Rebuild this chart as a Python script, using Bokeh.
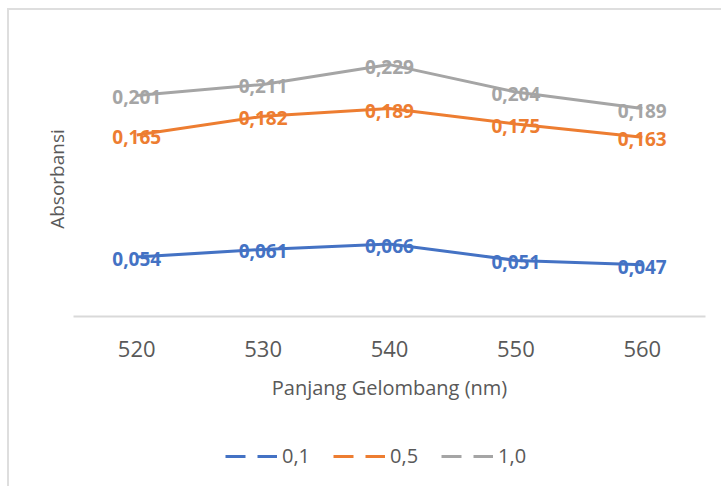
from bokeh.plotting import figure
from bokeh.layouts import column
from bokeh.models import ColumnDataSource, FixedTicker, Legend, LegendItem, Range1d
from bokeh.core.properties import value
from bokeh.embed import file_html
from bokeh.resources import INLINE

wavelengths = ["520", "530", "540", "550", "560"]
series_names = ["0,1", "0,5", "1,0"]
abs_01 = [0.054, 0.061, 0.066, 0.051, 0.047]
abs_05 = [0.165, 0.182, 0.189, 0.175, 0.163]
abs_10 = [0.201, 0.211, 0.229, 0.204, 0.189]
colors = ["#4472C4", "#ED7D31", "#A5A5A5"]

FONT = "Open Sans"
W = 712

p = figure(width=W, height=406, x_range=wavelengths, y_range=Range1d(0, 0.25),
           output_backend="svg", toolbar_location=None,
           min_border_left=64, min_border_right=16, min_border_top=31, min_border_bottom=100)
p.grid.visible = False
p.outline_line_color = None
p.background_fill_color = "white"
p.border_fill_color = "white"

# x axis
p.xaxis.axis_line_color = "#d9d9d9"
p.xaxis.axis_line_width = 2
p.xaxis.major_tick_line_color = None
p.xaxis.minor_tick_line_color = None
p.xaxis.major_label_text_font = FONT
p.xaxis.major_label_text_font_size = "22px"
p.xaxis.major_label_text_color = "#595959"
p.xaxis.major_label_standoff = 18
p.xaxis.axis_label = "Panjang Gelombang (nm)"
p.xaxis.axis_label_text_font = FONT
p.xaxis.axis_label_text_font_size = "20px"
p.xaxis.axis_label_text_font_style = "normal"
p.xaxis.axis_label_text_color = "#595959"
p.xaxis.axis_label_standoff = 14

# y axis: only title
p.yaxis.ticker = FixedTicker(ticks=[])
p.yaxis.axis_line_color = None
p.yaxis.major_tick_line_color = None
p.yaxis.minor_tick_line_color = None
p.yaxis.axis_label = "Absorbansi"
p.yaxis.axis_label_text_font = FONT
p.yaxis.axis_label_text_font_size = "19px"
p.yaxis.axis_label_text_font_style = "normal"
p.yaxis.axis_label_text_color = "#595959"
p.yaxis.axis_label_standoff = 4

all_series = [abs_01, abs_05, abs_10]
for vals, c in zip(all_series, colors):
    p.line(x=wavelengths, y=vals, line_color=c, line_width=3)

for vals, c in zip(all_series, colors):
    src = ColumnDataSource(dict(x=wavelengths, y=vals,
                                t=[f"{v:.3f}".replace(".", ",") for v in vals]))
    p.text(x="x", y="y", text="t", source=src, text_align="center",
           text_baseline="middle", text_color=c, text_font=value(FONT),
           text_font_size="19px", text_font_style="bold", y_offset=2)

# legend in its own small figure below the chart
lg = figure(width=W, height=70, x_range=Range1d(0, 1), y_range=Range1d(0, 1),
            output_backend="svg", toolbar_location=None,
            x_axis_location=None, y_axis_location=None, min_border=0)
lg.grid.visible = False
lg.outline_line_color = None
lg.border_fill_color = "white"

items = []
for name, c in zip(series_names, colors):
    r = lg.line(x=[0.5], y=[float("nan")], line_color=c, line_width=3,
                line_dash="20 12")
    items.append(LegendItem(label=name, renderers=[r]))

legend = Legend(items=items, orientation="horizontal", location=(152, 17),
                glyph_width=52, glyph_height=22, label_standoff=5, spacing=23,
                padding=0, margin=0, border_line_color=None,
                background_fill_alpha=0,
                label_text_font=FONT, label_text_font_size="20px",
                label_text_color="#595959")
lg.add_layout(legend, "center")

layout = column(p, lg, spacing=0,
                styles={"margin-left": "7px", "margin-top": "8px",
                        "border-left": "2px solid #dedede", "border-top": "2px solid #dedede"})

open("out.html", "w").write(file_html(layout, INLINE))
